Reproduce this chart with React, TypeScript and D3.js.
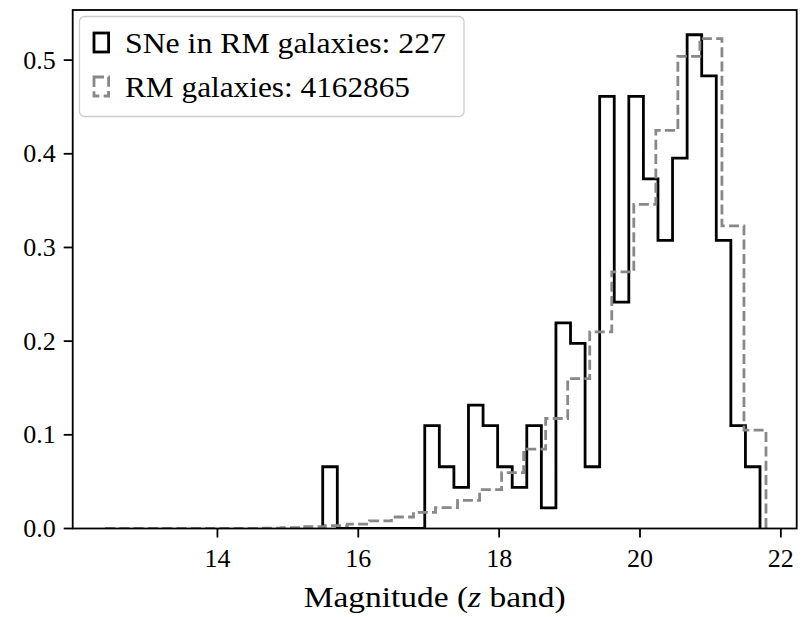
import React from "react";
import * as d3 from "d3";

// ---- data ----
const snLabel = "SNe in RM galaxies: 227";
const rmLabel = "RM galaxies: 4162865";
const xLabelMain = "Magnitude (";
const xLabelItalic = "z";
const xLabelEnd = " band)";

// black histogram (SNe), 30 bins
const snBinStart = 15.495;
const snBinEnd = 21.704;
const snValues = [
  0.0659, 0, 0, 0, 0, 0, 0, 0.1098, 0.0659, 0.0439,
  0.1318, 0.1098, 0.0659, 0.0439, 0.1098, 0.022, 0.2196, 0.1976, 0.0659, 0.4612,
  0.2416, 0.4612, 0.3733, 0.3075, 0.3953, 0.5271, 0.4831, 0.3075, 0.1098, 0.0659,
];

// gray histogram (RM galaxies), 30 bins
const rmBinStart = 12.404;
const rmBinEnd = 21.789;
const rmValues = [
  0, 0, 0, 0, 0, 0, 0.0002, 0.0005, 0.001, 0.002,
  0.003, 0.0046, 0.0081, 0.0123, 0.0173, 0.0223, 0.0301, 0.0415, 0.0596, 0.0847,
  0.1174, 0.16, 0.21, 0.274, 0.346, 0.425, 0.504, 0.523, 0.323, 0.105,
];

const xTicks = [14, 16, 18, 20, 22];
const yTicks = [0.0, 0.1, 0.2, 0.3, 0.4, 0.5];
const xDomain = [11.945, 22.225];
const yDomain = [0, 0.5535];

// ---- layout ----
const W = 808;
const H = 617;
const left = 72.7;
const right = 796.7;
const top = 10;
const bottom = 528.5;
const FONT = "Liberation Serif";

function edges(start: number, end: number, n: number) {
  const w = (end - start) / n;
  return d3.range(n + 1).map((i) => start + i * w);
}

export default function App() {
  const x = d3.scaleLinear().domain(xDomain).range([left, right]);
  const y = d3.scaleLinear().domain(yDomain).range([bottom, top]);

  const stepPath = (start: number, end: number, vals: number[]) => {
    const e = edges(start, end, vals.length);
    const pts: [number, number][] = [[e[0], 0]];
    vals.forEach((v, i) => pts.push([e[i], v]));
    pts.push([e[vals.length], vals[vals.length - 1]]);
    pts.push([e[vals.length], 0]);
    const line = d3
      .line<[number, number]>()
      .x((d) => x(d[0]))
      .y((d) => y(d[1]))
      .curve(d3.curveStepAfter);
    return line(pts) || "";
  };

  const snPath = stepPath(snBinStart, snBinEnd, snValues);
  const rmPath = stepPath(rmBinStart, rmBinEnd, rmValues);

  return (
    <svg
      width={W}
      height={H}
      style={{ position: "absolute", left: 0, top: 0, background: "#fff" }}
    >
      <rect x={0} y={0} width={W} height={H} fill="#fff" />
      <defs>
        <clipPath id="plotClip">
          <rect x={left} y={top} width={right - left} height={bottom - top} />
        </clipPath>
      </defs>
      <g clipPath="url(#plotClip)">
        <path d={snPath} fill="none" stroke="#000" strokeWidth={2.8} strokeLinejoin="miter" />
        <path
          d={rmPath}
          fill="none"
          stroke="#888888"
          strokeWidth={2.8}
          strokeDasharray="10 4.3"
          strokeLinejoin="miter"
        />
      </g>

      {/* frame */}
      <rect
        x={left}
        y={top}
        width={right - left}
        height={bottom - top}
        fill="none"
        stroke="#000"
        strokeWidth={1.8}
      />

      {/* x ticks */}
      {xTicks.map((t) => (
        <g key={"xt" + t}>
          <line x1={x(t)} x2={x(t)} y1={bottom} y2={bottom + 9} stroke="#000" strokeWidth={1.8} />
          <text x={x(t)} y={bottom + 38} textAnchor="middle" fontSize={26} fill="#000" fontFamily={FONT}>
            {t}
          </text>
        </g>
      ))}

      {/* y ticks */}
      {yTicks.map((t) => (
        <g key={"yt" + t}>
          <line x1={left - 9} x2={left} y1={y(t)} y2={y(t)} stroke="#000" strokeWidth={1.8} />
          <text x={left - 17} y={y(t) + 8.5} textAnchor="end" fontSize={26} fill="#000" fontFamily={FONT}>
            {t.toFixed(1)}
          </text>
        </g>
      ))}

      {/* x label */}
      <text
        x={(left + right) / 2}
        y={607}
        textAnchor="middle"
        fontSize={30}
        fill="#000"
        fontFamily={FONT}
        textLength={262}
        lengthAdjust="spacingAndGlyphs"
      >
        {xLabelMain}
        <tspan fontStyle="italic">{xLabelItalic}</tspan>
        {xLabelEnd}
      </text>

      {/* legend */}
      <rect
        x={79.5}
        y={16.5}
        width={384.5}
        height={100}
        rx={5}
        fill="#fff"
        fillOpacity={0.8}
        stroke="#cccccc"
        strokeWidth={1.3}
      />
      <rect x={94} y={33} width={14.6} height={19} fill="none" stroke="#000" strokeWidth={2.8} />
      <rect
        x={94}
        y={77}
        width={14.6}
        height={19}
        fill="none"
        stroke="#888888"
        strokeWidth={2.8}
        strokeDasharray="10 4.3"
      />
      <text x={125} y={53} fontSize={30} fill="#000" fontFamily={FONT} textLength={321} lengthAdjust="spacingAndGlyphs">
        {snLabel}
      </text>
      <text x={125} y={96.5} fontSize={30} fill="#000" fontFamily={FONT} textLength={285} lengthAdjust="spacingAndGlyphs">
        {rmLabel}
      </text>
    </svg>
  );
}
